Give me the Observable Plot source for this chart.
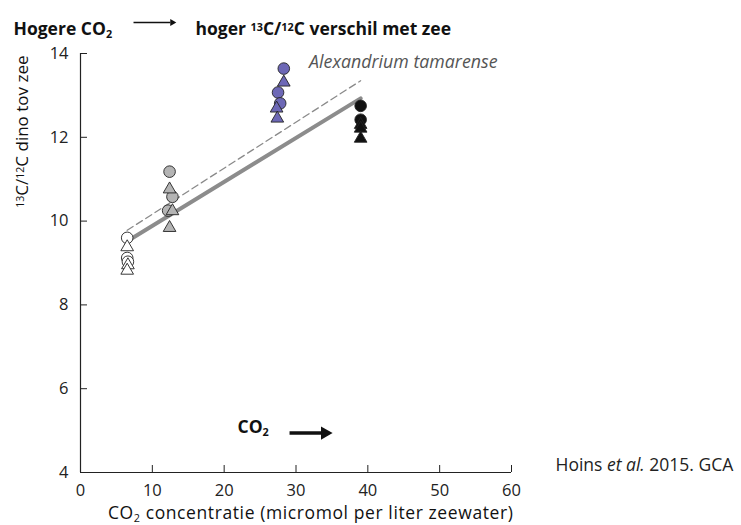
<!DOCTYPE html>
<html>
<head>
<meta charset="utf-8">
<script src="https://cdn.jsdelivr.net/npm/d3@7"></script>
<script src="https://cdn.jsdelivr.net/npm/@observablehq/plot@0.6"></script>
<style>
  html, body { margin: 0; padding: 0; background: #fff; }
  svg text { font-family: "Open Sans", "Noto Sans", sans-serif; }
</style>
</head>
<body>
<div id="chart"></div>
<script>
// ---- data ----
const xTicks = [0, 10, 20, 30, 40, 50, 60];
const yTicks = [4, 6, 8, 10, 12, 14];
const groups = ["laag", "middel", "hoog", "zeer hoog"];

const circles = [
  {group: "laag", co2: 6.5, d13: 9.60},
  {group: "laag", co2: 6.5, d13: 9.12},
  {group: "laag", co2: 6.6, d13: 9.03},
  {group: "middel", co2: 12.4, d13: 11.18},
  {group: "middel", co2: 12.8, d13: 10.58},
  {group: "middel", co2: 12.2, d13: 10.25},
  {group: "hoog", co2: 28.3, d13: 13.64},
  {group: "hoog", co2: 27.5, d13: 13.07},
  {group: "hoog", co2: 27.8, d13: 12.81},
  {group: "zeer hoog", co2: 39.0, d13: 12.75},
  {group: "zeer hoog", co2: 39.0, d13: 12.42}
];
const triangles = [
  {group: "laag", co2: 6.5, d13: 9.38},
  {group: "laag", co2: 6.6, d13: 8.95},
  {group: "laag", co2: 6.5, d13: 8.82},
  {group: "middel", co2: 12.4, d13: 10.76},
  {group: "middel", co2: 12.8, d13: 10.24},
  {group: "middel", co2: 12.4, d13: 9.84},
  {group: "hoog", co2: 28.3, d13: 13.31},
  {group: "hoog", co2: 27.3, d13: 12.69},
  {group: "hoog", co2: 27.4, d13: 12.45},
  {group: "zeer hoog", co2: 39.0, d13: 12.30},
  {group: "zeer hoog", co2: 39.0, d13: 12.21},
  {group: "zeer hoog", co2: 39.0, d13: 11.97}
];
const solidFit = [{co2: 6.5, d13: 9.52}, {co2: 39.0, d13: 12.93}];
const dashedFit = [{co2: 6.5, d13: 9.78}, {co2: 39.0, d13: 13.35}];

// annotation arrows (data space)
const titleArrow = [{x1: 7.38, x2: 12.5, y: 14.74}];
const co2Arrow = [{x1: 29.1, x2: 33.6, y: 4.94}];

const titleLeft = "Hogere CO₂";
const titleRight = "hoger ¹³C/¹²C verschil met zee";
const yLabel = "¹³C/¹²C dino tov zee";
const xLabel = "CO₂ concentratie (micromol per liter zeewater)";
const species = "Alexandrium tamarense";
const co2Note = "CO₂";
const source = "Hoins et al. 2015. GCA";

const FS = 16.5;

const chart = Plot.plot({
  width: 741,
  height: 525,
  marginLeft: 80,
  marginRight: 230,
  marginTop: 53,
  marginBottom: 53,
  style: {fontFamily: "'Open Sans', 'Noto Sans', sans-serif", fontSize: FS + "px", color: "#222"},
  x: {domain: [0, 60]},
  y: {domain: [4, 14]},
  color: {domain: groups, range: ["#ffffff", "#b4b4b4", "#6d68b6", "#111111"]},
  marks: [
    Plot.axisX({ticks: xTicks, tickSize: -7, tickPadding: 19, label: null, fontSize: FS, stroke: "#222"}),
    Plot.axisY({ticks: yTicks, tickSize: -7, tickPadding: 19, label: null, fontSize: FS, stroke: "#222"}),
    Plot.ruleX([0], {stroke: "#222", strokeWidth: 1.2}),
    Plot.ruleY([4], {stroke: "#222", strokeWidth: 1.2}),
    Plot.line(dashedFit, {x: "co2", y: "d13", stroke: "#8a8a8a", strokeWidth: 1.3, strokeDasharray: "7,4"}),
    Plot.line(solidFit, {x: "co2", y: "d13", stroke: "#8c8c8c", strokeWidth: 4}),
    Plot.dot(circles, {x: "co2", y: "d13", fill: "group", r: 5.8, stroke: "#222", strokeWidth: 0.9}),
    Plot.dot(triangles, {x: "co2", y: "d13", fill: "group", symbol: "triangle", r: 4.7, stroke: "#222", strokeWidth: 0.9}),
    // title
    Plot.text([titleLeft], {text: d => d, frameAnchor: "top-left", dx: -67, dy: -31, textAnchor: "start", fontWeight: "bold", fontSize: 17.5, fill: "#111"}),
    Plot.text([titleRight], {text: d => d, frameAnchor: "top-left", dx: 115, dy: -31, textAnchor: "start", fontWeight: "bold", fontSize: 17.5, fill: "#111"}),
    Plot.link(titleArrow, {x1: "x1", x2: "x2", y1: "y", y2: "y", stroke: "#111", strokeWidth: 1.3}),
    Plot.dot(titleArrow, {x: "x2", y: "y", symbol: "triangle", rotate: 90, r: 2.6, fill: "#111", dx: 2}),
    // y label
    Plot.text([yLabel], {text: d => d, frameAnchor: "top-left", rotate: -90, textAnchor: "end", dx: -65, dy: 2, fontSize: 17, fill: "#111"}),
    // species
    Plot.text([species], {text: d => d, frameAnchor: "top-right", textAnchor: "end", dx: -14, dy: 2, fontSize: 17.8, fontStyle: "italic", fill: "#555"}),
    // CO2 arrow annotation
    Plot.text([co2Note], {text: d => d, frameAnchor: "bottom-left", textAnchor: "start", dx: 157, dy: -40, fontSize: 17.5, fontWeight: "bold", fill: "#111"}),
    Plot.link(co2Arrow, {x1: "x1", x2: "x2", y1: "y", y2: "y", stroke: "#111", strokeWidth: 3.5}),
    Plot.dot(co2Arrow, {x: "x2", y: "y", symbol: "triangle", rotate: 90, r: 5, fill: "#111", dx: 3}),
    // x label
    Plot.text([xLabel], {text: d => d, frameAnchor: "bottom-right", textAnchor: "end", dx: 2, dy: 46, fontSize: 17.5, fill: "#111"}),
    // source
    Plot.text([source], {text: d => d, frameAnchor: "bottom-right", textAnchor: "start", dx: 44, dy: -2, fontSize: 17.5, fill: "#222"})
  ]
});

// rich text: sub/superscripts and italics as tspans
d3.select(chart).selectAll("text").each(function () {
  const t = this.textContent;
  if (t === xLabel) this.setAttribute("letter-spacing", "0.6");
  if (!/[₂¹²³]|et al\./.test(t) || this.querySelector("tspan")) return;
  const html = t
    .replace(/et al\./g, '<tspan font-style="italic">et al.</tspan>')
    .replace(/₂/g, '<tspan font-size="62%" baseline-shift="-28%">2</tspan>')
    .replace(/¹³/g, '<tspan font-size="62%" baseline-shift="38%">13</tspan>')
    .replace(/¹²/g, '<tspan font-size="62%" baseline-shift="38%">12</tspan>');
  this.innerHTML = html;
});

document.getElementById("chart").appendChild(chart);
</script>
</body>
</html>
